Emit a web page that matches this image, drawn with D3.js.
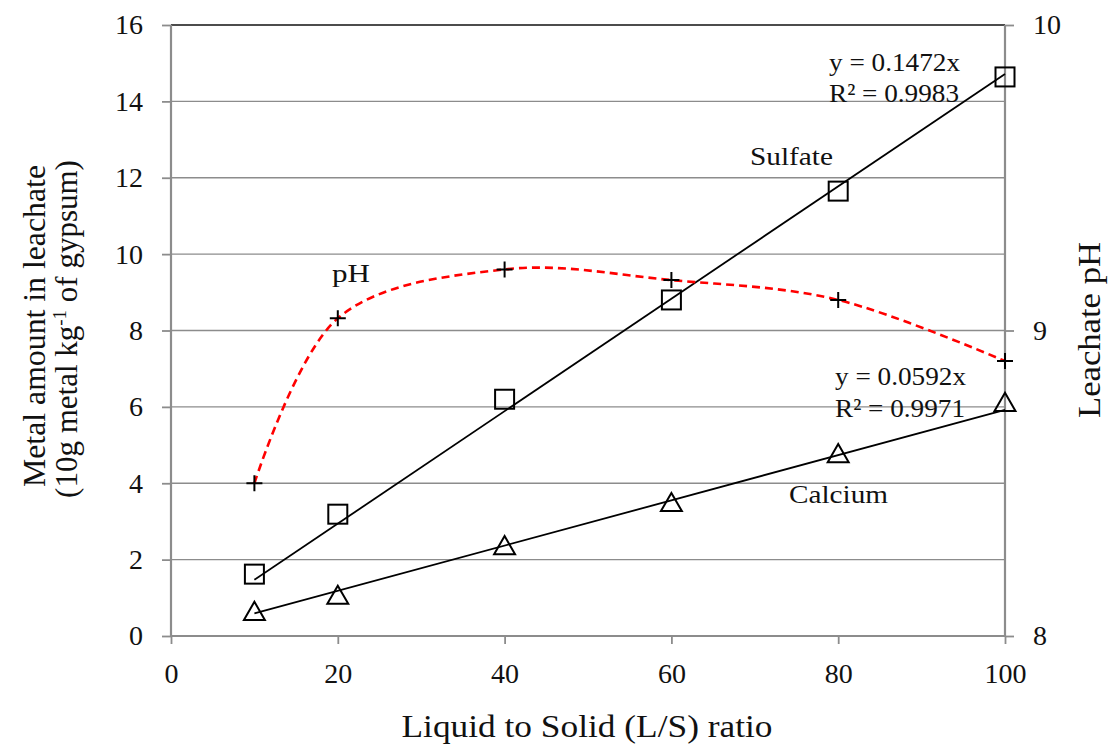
<!DOCTYPE html>
<html>
<head>
<meta charset="utf-8">
<script src="https://cdn.jsdelivr.net/npm/d3@7"></script>
<style>
  html, body { margin: 0; padding: 0; background: #fff; }
  svg { display: block; font-family: "Liberation Serif", "DejaVu Serif", serif; }
</style>
</head>
<body>
<svg id="chart" width="1114" height="746"></svg>
<script>
// L/S ratios sampled
const ratios = [10, 20, 40, 60, 80, 100];
// Sulfate and calcium released (left axis)
const sulfate = [1.62, 3.19, 6.2, 8.8, 11.65, 14.64];
const calcium = [0.58, 1.0, 2.3, 3.43, 4.71, 6.05];
// Leachate pH (right axis)
const ph = [8.5, 9.04, 9.2, 9.165, 9.1, 8.9];
// Linear fits through the origin
const sulfateSlope = 0.1472;
const calciumSlope = 0.0592;
// Axis ticks
const xTicks = [0, 20, 40, 60, 80, 100];
const yTicks = [0, 2, 4, 6, 8, 10, 12, 14, 16];
const phTicks = [8, 9, 10];

const svg = d3.select("#chart");
const plotL = 171, plotR = 1005, plotT = 25, plotB = 636;
const x = d3.scaleLinear().domain([0, 100]).range([plotL, plotR]);
const y = d3.scaleLinear().domain([0, 16]).range([plotB, plotT]);
const y2 = d3.scaleLinear().domain([8, 10]).range([plotB, plotT]);
const grey = "#8c8c8c";
const ink = "#111";

// Horizontal gridlines
svg.append("g").selectAll("line").data(yTicks).join("line")
  .attr("x1", plotL).attr("x2", plotR)
  .attr("y1", d => y(d)).attr("y2", d => y(d))
  .attr("stroke", d => d === 16 ? ink : grey)
  .attr("stroke-width", 1.4);

// Left axis
const gL = svg.append("g").attr("transform", `translate(${plotL},0)`)
  .call(d3.axisLeft(y).tickValues(yTicks).tickSize(9).tickPadding(19));
// Right axis
const gR = svg.append("g").attr("transform", `translate(${plotR},0)`)
  .call(d3.axisRight(y2).tickValues(phTicks).tickSize(9).tickPadding(19).tickFormat(d3.format("d")));
// Bottom axis
const gB = svg.append("g").attr("transform", `translate(0,${plotB})`)
  .call(d3.axisBottom(x).tickValues(xTicks).tickSize(8).tickPadding(19));

[gL, gR, gB].forEach(g => {
  g.selectAll(".domain").attr("stroke", grey).attr("stroke-width", 2.2);
  g.selectAll(".tick line").attr("stroke", grey).attr("stroke-width", 1.8);
  g.selectAll(".tick text").attr("fill", ink)
    .style("font-family", "Liberation Serif, serif").style("font-size", "28px");
});
gL.select(".domain").attr("d", `M0,${plotB}V${plotT}`);
gR.select(".domain").attr("d", `M0,${plotB}V${plotT}`);
gB.select(".domain").attr("d", `M${plotL},0H${plotR}`);

// Trendlines
function trend(slope) {
  return [[ratios[0], slope * ratios[0]], [ratios[ratios.length - 1], slope * ratios[ratios.length - 1]]];
}
const lin = d3.line().x(d => x(d[0])).y(d => y(d[1]));
svg.append("path").attr("d", lin(trend(sulfateSlope)))
  .attr("fill", "none").attr("stroke", "#000").attr("stroke-width", 1.8);
svg.append("path").attr("d", lin(trend(calciumSlope)))
  .attr("fill", "none").attr("stroke", "#000").attr("stroke-width", 1.8);

// Smoothed pH curve
const phLine = d3.line().x((d, i) => x(ratios[i])).y(d => y2(d)).curve(d3.curveCardinal.tension(0));
svg.append("path").attr("d", phLine(ph))
  .attr("fill", "none").attr("stroke", "#ff0000").attr("stroke-width", 2.6)
  .attr("stroke-dasharray", "8,5");

// Sulfate markers (squares)
const sq = 19;
svg.append("g").selectAll("rect").data(sulfate).join("rect")
  .attr("x", (d, i) => x(ratios[i]) - sq / 2).attr("y", d => y(d) - sq / 2)
  .attr("width", sq).attr("height", sq)
  .attr("fill", "none").attr("stroke", "#000").attr("stroke-width", 2);

// Calcium markers (triangles)
const tri = d3.symbol().type(d3.symbolTriangle).size(190);
svg.append("g").selectAll("path").data(calcium).join("path")
  .attr("transform", (d, i) => `translate(${x(ratios[i])},${y(d)})`)
  .attr("d", tri)
  .attr("fill", "none").attr("stroke", "#000").attr("stroke-width", 2);

// pH markers (plus)
const pl = 8;
svg.append("g").selectAll("path").data(ph).join("path")
  .attr("d", (d, i) => {
    const cx = x(ratios[i]), cy = y2(d);
    return `M${cx - pl},${cy}H${cx + pl}M${cx},${cy - pl}V${cy + pl}`;
  })
  .attr("stroke", "#000").attr("stroke-width", 2);

// Annotations
const notes = [
  { t: "y = 0.1472x", x: 829, y: 71, w: 131 },
  { t: "R² = 0.9983", x: 829, y: 102, w: 130 },
  { t: "Sulfate", x: 750, y: 165, w: 83 },
  { t: "pH", x: 332, y: 282, w: 38 },
  { t: "y = 0.0592x", x: 835, y: 385, w: 131 },
  { t: "R² = 0.9971", x: 835, y: 417, w: 130 },
  { t: "Calcium", x: 789, y: 503, w: 99 }
];
svg.append("g").selectAll("text").data(notes).join("text")
  .attr("x", d => d.x).attr("y", d => d.y).text(d => d.t)
  .attr("textLength", d => d.w).attr("lengthAdjust", "spacingAndGlyphs")
  .attr("fill", ink).style("font-size", "26px");

// Axis titles
svg.append("text").attr("x", 587).attr("y", 737)
  .attr("text-anchor", "middle").style("font-size", "31px").attr("fill", ink)
  .attr("textLength", 371).attr("lengthAdjust", "spacingAndGlyphs")
  .text("Liquid to Solid (L/S) ratio");

svg.append("text").attr("transform", "translate(45,326) rotate(-90)")
  .attr("text-anchor", "middle").style("font-size", "31px").attr("fill", ink)
  .attr("textLength", 322).attr("lengthAdjust", "spacingAndGlyphs")
  .text("Metal amount in leachate");
const lt2 = svg.append("text").attr("transform", "translate(77,329) rotate(-90)")
  .attr("text-anchor", "middle").style("font-size", "31px").attr("fill", ink);
lt2.append("tspan").text("(10g metal kg");
lt2.append("tspan").attr("dy", -11).style("font-size", "19px").text("-1");
lt2.append("tspan").attr("dy", 11).text(" of gypsum)");

svg.append("text").attr("transform", "translate(1100,330) rotate(-90)")
  .attr("text-anchor", "middle").style("font-size", "31px").attr("fill", ink)
  .attr("textLength", 176).attr("lengthAdjust", "spacingAndGlyphs")
  .text("Leachate pH");
</script>
</body>
</html>
